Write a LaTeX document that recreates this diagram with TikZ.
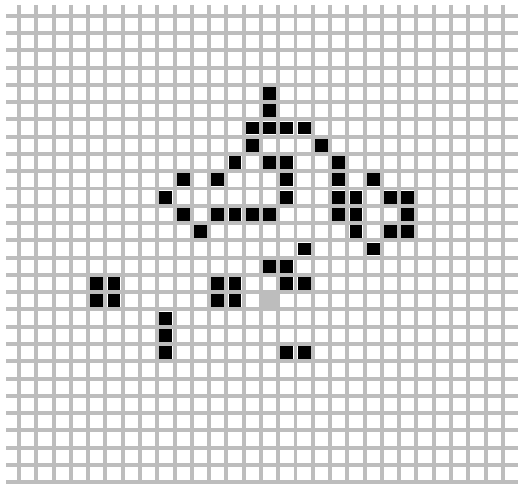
\documentclass[tikz,border=0pt]{standalone}
\usepackage{tikz}
\definecolor{gridgray}{rgb}{0.74, 0.74, 0.74}
\tikzstyle{gridline} = [draw=gridgray, line width=0.115cm]
\tikzstyle{alive} = [fill=black]
\tikzstyle{marked} = [fill=gridgray]

\begin{document}
\begin{tikzpicture}[x=0.5cm, y=-0.5cm]
    \useasboundingbox (-1.0995,-0.9086) rectangle (28.877,27.274);
    % grid
    \foreach \j in {0,...,27}
        \draw[gridline] (-0.75,\j) -- (28.877,\j);
    \foreach \k in {0,...,28}
        \draw[gridline] (\k,-0.62) -- (\k,27.115);
    % live cells, column/row
    \foreach \c/\r in {14/4, 14/5, 13/6, 14/6, 15/6, 16/6, 13/7, 17/7,
                       12/8, 14/8, 15/8, 18/8, 9/9, 11/9, 15/9, 18/9, 20/9,
                       8/10, 15/10, 18/10, 19/10, 21/10, 22/10,
                       9/11, 11/11, 12/11, 13/11, 14/11, 18/11, 19/11, 22/11,
                       10/12, 19/12, 21/12, 22/12, 16/13, 20/13, 14/14, 15/14,
                       4/15, 5/15, 11/15, 12/15, 15/15, 16/15,
                       4/16, 5/16, 11/16, 12/16, 8/17, 8/18, 8/19, 15/19, 16/19}
        \fill[alive] (\c+0.13,\r+0.13) rectangle (\c+0.87,\r+0.87);
    \fill[marked] (14.13,16.13) rectangle (14.87,16.87);
\end{tikzpicture}
\end{document}
